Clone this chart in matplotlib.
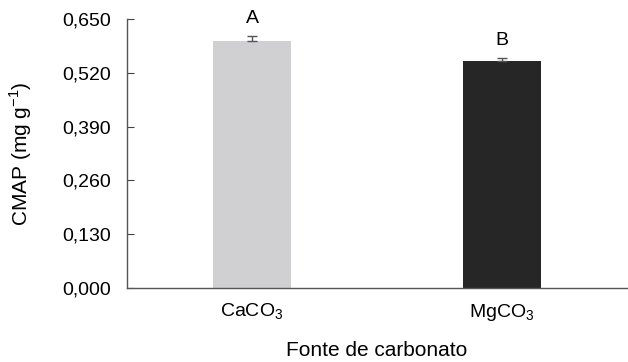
import matplotlib
matplotlib.use("Agg")
import matplotlib.pyplot as plt
from matplotlib.ticker import FuncFormatter

categories = [r"CaCO$_\mathregular{3}$", r"MgCO$_\mathregular{3}$"]
values = [0.598, 0.549]
errors = [0.010, 0.006]
letters = ["A", "B"]
yticks = [0.0, 0.13, 0.26, 0.39, 0.52, 0.65]

plt.rcParams['font.family'] = ['Liberation Sans', 'DejaVu Sans']
plt.rcParams['mathtext.fontset'] = 'custom'
plt.rcParams['mathtext.rm'] = 'Liberation Sans'

fig = plt.figure(figsize=(6.28, 3.62), dpi=100)
ax = fig.add_axes([127/628, 1-288/362, 500/628, 269/362])

x = list(range(len(categories)))
colors = ['#d0cfd1', '#262626']
ax.bar(x, values, width=0.315, color=colors, zorder=2)
ax.errorbar(x, values, yerr=[[0, 0], errors], fmt='none', ecolor='#555555',
            elinewidth=1, capsize=3.5, capthick=1, zorder=3)
for xi, v, e, l in zip(x, values, errors, letters):
    ax.text(xi, v + e + 0.022, l, ha='center', va='bottom', fontsize=14)

ax.set_xlim(-0.5, 1.5)
ax.set_ylim(0, 0.65)
ax.set_yticks(yticks)
ax.yaxis.set_major_formatter(FuncFormatter(lambda v, p: f"{v:.3f}".replace('.', ',')))
ax.set_xticks(x)
ax.set_xticklabels(categories, fontsize=14)
ax.tick_params(axis='y', direction='in', length=5, labelsize=14, color='#444444', pad=11.5)
ax.tick_params(axis='x', length=0, pad=10)
for s in ['top', 'right']:
    ax.spines[s].set_visible(False)
for s in ['left', 'bottom']:
    ax.spines[s].set_color('#555555')
    ax.spines[s].set_linewidth(1)

ax.set_ylabel(r"CMAP (mg g$^{\mathregular{-1}}$)", fontsize=15, labelpad=20)
ax.set_xlabel("Fonte de carbonato", fontsize=15, labelpad=13)

fig.savefig("out.png", dpi=100)
